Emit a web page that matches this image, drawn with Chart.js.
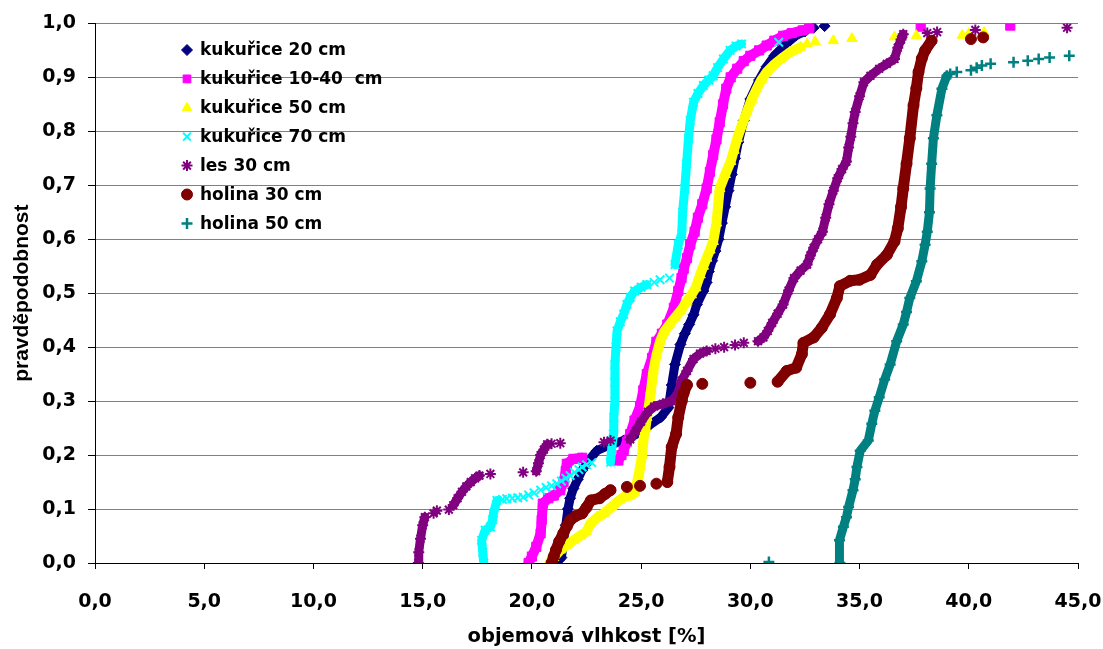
<!DOCTYPE html>
<html>
<head>
<meta charset="utf-8">
<script src="https://cdn.jsdelivr.net/npm/chart.js@4.4.1/dist/chart.umd.min.js"></script>
<style>
    html, body { margin: 0; padding: 0; background: #fff; }
    #wrap { width: 1103px; height: 649px; }
</style>
</head>
<body>
<div id="wrap"><canvas id="cdf-chart"></canvas></div>
<script>
// each series = list of runs; a run is a group of markers that touch each other
const kuk20 = [
    [[21.1,0.0],[21.35,0.01],[21.45,0.04],[21.55,0.07],[21.65,0.1],[21.75,0.12],[21.9,0.138],[22.1,0.155],[22.3,0.172],[22.6,0.19],[22.97,0.208],[23.5,0.218],[24.2,0.227],[24.6,0.235],[24.95,0.242],[25.4,0.256],[25.9,0.27],[26.25,0.288],[26.4,0.33],[26.55,0.368],[26.8,0.405],[27.0,0.425],[27.2,0.442],[27.4,0.46],[27.55,0.479],[27.85,0.504],[28.0,0.52],[28.1,0.54],[28.25,0.56],[28.4,0.578],[28.55,0.6],[28.7,0.63],[28.85,0.66],[29.0,0.69],[29.15,0.72],[29.3,0.75],[29.45,0.78],[29.7,0.82],[30.0,0.86],[30.4,0.895],[30.75,0.92],[31.1,0.94],[31.4,0.952],[31.8,0.968],[32.1,0.978],[32.5,0.985]],
    [[32.9,0.992]],
    [[33.4,0.995]]
];
const kuk1040 = [
    [[19.85,0.0],[20.0,0.012],[20.2,0.03],[20.4,0.055],[20.45,0.08],[20.5,0.11],[20.75,0.12],[21.0,0.125],[21.3,0.135],[21.45,0.15],[21.55,0.17],[21.6,0.184],[21.9,0.193],[22.3,0.195]],
    [[23.96,0.19],[24.1,0.2],[24.2,0.208],[24.35,0.225],[24.5,0.239],[24.7,0.264],[24.95,0.29],[25.1,0.32],[25.26,0.35],[25.5,0.38],[25.7,0.41],[25.95,0.425],[26.2,0.442],[26.5,0.473],[26.7,0.504],[26.85,0.528],[26.95,0.545],[27.1,0.565],[27.25,0.59],[27.45,0.614],[27.6,0.64],[27.8,0.665],[28.0,0.694],[28.15,0.725],[28.3,0.756],[28.45,0.785],[28.6,0.817],[28.75,0.85],[28.9,0.879],[29.1,0.9],[29.4,0.916],[29.7,0.93],[30.0,0.94],[30.4,0.95],[30.75,0.959],[31.1,0.968],[31.5,0.977],[31.9,0.982],[32.4,0.987],[32.7,0.991]],
    [[37.8,0.994]],
    [[41.9,0.996]]
];
const kuk50 = [
    [[20.8,0.0],[21.0,0.01],[21.3,0.024],[21.6,0.033],[21.9,0.042],[22.2,0.05],[22.5,0.058],[22.67,0.073],[23.0,0.085],[23.3,0.092],[23.65,0.104],[24.0,0.116],[24.2,0.122],[24.45,0.124],[24.7,0.13],[24.8,0.147],[24.9,0.165],[24.95,0.178],[25.05,0.2],[25.1,0.227],[25.2,0.25],[25.26,0.27],[25.35,0.29],[25.45,0.32],[25.56,0.356],[25.7,0.385],[25.87,0.411],[26.05,0.428],[26.3,0.442],[26.55,0.455],[26.8,0.467],[27.1,0.485],[27.3,0.497],[27.5,0.51],[27.7,0.534],[27.85,0.55],[28.0,0.565],[28.15,0.58],[28.3,0.596],[28.45,0.63],[28.6,0.694],[28.85,0.72],[29.1,0.744],[29.25,0.765],[29.4,0.787],[29.6,0.81],[29.84,0.836],[30.05,0.858],[30.3,0.879],[30.5,0.895],[30.75,0.91],[31.1,0.924],[31.4,0.934],[31.8,0.946],[32.3,0.956]],
    [[32.6,0.962]], [[32.97,0.966]], [[33.8,0.968]], [[34.65,0.972]], [[36.6,0.975]],
    [[37.6,0.977]], [[39.7,0.978]], [[40.0,0.981]], [[40.7,0.983]]
];
const kuk70 = [
    [[17.8,0.0],[17.75,0.02],[17.7,0.042],[17.86,0.061],[18.1,0.067],[18.2,0.08],[18.24,0.092],[18.4,0.116]],
    [[18.65,0.118]], [[18.85,0.119]], [[19.1,0.12]], [[19.35,0.121]], [[19.6,0.122]], [[19.85,0.126]],
    [[20.1,0.13]], [[20.4,0.135]], [[20.65,0.14]], [[20.9,0.143]], [[21.14,0.147]], [[21.35,0.152]],
    [[21.55,0.157]], [[21.75,0.162]], [[21.95,0.168]], [[22.15,0.173]], [[22.3,0.178]], [[22.5,0.182]], [[22.74,0.186]],
    [[23.6,0.187],[23.65,0.21],[23.73,0.239],[23.75,0.27],[23.8,0.3],[23.8,0.335],[23.8,0.368],[23.85,0.4],[23.9,0.43],[24.05,0.447],[24.2,0.461],[24.35,0.479],[24.5,0.492],[24.7,0.504],[25.0,0.511],[25.26,0.516]],
    [[25.6,0.52]], [[25.87,0.525]], [[26.3,0.528]],
    [[26.55,0.553],[26.7,0.59],[26.86,0.61],[26.9,0.65],[27.0,0.694],[27.08,0.74],[27.17,0.787],[27.25,0.82],[27.4,0.854],[27.6,0.87],[27.85,0.885],[28.1,0.895],[28.3,0.903],[28.5,0.918],[28.77,0.934],[29.07,0.95],[29.35,0.958],[29.6,0.962]],
    [[31.3,0.965]]
];
const les30 = [
    [[14.8,0.0],[14.82,0.02],[14.9,0.045],[15.0,0.07],[15.1,0.085]],
    [[15.5,0.092]], [[15.65,0.097]], [[16.2,0.099]],
    [[16.4,0.107],[16.6,0.12],[16.8,0.132],[17.0,0.142],[17.2,0.15],[17.4,0.157],[17.6,0.162]],
    [[18.1,0.165]], [[19.6,0.168]],
    [[20.2,0.17],[20.3,0.185],[20.4,0.2],[20.55,0.21],[20.7,0.22]],
    [[20.9,0.221]], [[21.3,0.222]], [[23.3,0.224]], [[23.6,0.227]],
    [[24.5,0.229],[24.75,0.245],[25.0,0.262],[25.3,0.28],[25.6,0.29],[26.0,0.295],[26.4,0.3],[26.7,0.315],[26.85,0.338],[27.1,0.356],[27.4,0.378],[27.7,0.388],[28.0,0.393]],
    [[28.4,0.397]], [[28.8,0.4]], [[29.3,0.404]], [[29.7,0.408]],
    [[30.35,0.411],[30.6,0.418],[30.8,0.43],[31.0,0.445],[31.25,0.462],[31.5,0.479],[31.75,0.505],[32.0,0.528],[32.3,0.542],[32.6,0.553],[32.75,0.57],[32.9,0.584],[33.1,0.6],[33.3,0.614],[33.45,0.64],[33.6,0.665],[33.8,0.69],[34.0,0.713],[34.2,0.73],[34.4,0.744],[34.5,0.77],[34.6,0.79],[34.7,0.815],[34.8,0.836],[35.0,0.865],[35.2,0.891],[35.5,0.903],[35.9,0.916],[36.25,0.925],[36.6,0.934],[36.75,0.955],[36.9,0.97],[37.0,0.98]],
    [[38.1,0.982]], [[38.55,0.984]], [[40.3,0.988]], [[44.5,0.992]]
];
const holina30 = [
    [[20.9,0.0],[21.0,0.012],[21.1,0.024],[21.25,0.04],[21.44,0.055],[21.6,0.068],[21.75,0.079],[22.0,0.087],[22.3,0.092],[22.5,0.103],[22.7,0.116],[23.1,0.12],[23.35,0.128],[23.6,0.135]],
    [[24.35,0.141]], [[24.95,0.143]], [[25.7,0.147]],
    [[26.2,0.15],[26.3,0.178],[26.4,0.215],[26.6,0.239],[26.7,0.27],[26.86,0.3],[26.95,0.315],[27.1,0.33]],
    [[27.8,0.332]], [[30.0,0.334]],
    [[31.25,0.336],[31.67,0.356],[32.1,0.362],[32.36,0.387],[32.43,0.408],[32.9,0.418],[33.27,0.436],[33.65,0.461],[33.96,0.491],[34.1,0.513],[34.57,0.523],[35.0,0.525],[35.5,0.534],[35.8,0.553],[36.25,0.571],[36.6,0.596],[36.75,0.62],[36.9,0.66],[37.0,0.694],[37.15,0.74],[37.3,0.787],[37.47,0.848],[37.6,0.88],[37.7,0.91],[37.85,0.935],[38.0,0.95],[38.3,0.968]],
    [[40.1,0.971]], [[40.66,0.974]]
];
const holina50 = [
    [[30.85,0.002]],
    [[34.1,0.0],[34.08,0.042],[34.26,0.067],[34.4,0.085],[34.5,0.104],[34.7,0.135],[34.8,0.155],[34.88,0.178],[35.03,0.208],[35.4,0.227],[35.56,0.258],[35.7,0.282],[35.9,0.307],[36.15,0.34],[36.4,0.368],[36.7,0.411],[37.0,0.442],[37.15,0.465],[37.3,0.491],[37.6,0.522],[37.85,0.559],[38.0,0.59],[38.1,0.614],[38.2,0.65],[38.23,0.694],[38.3,0.74],[38.38,0.787],[38.54,0.83],[38.77,0.879],[39.0,0.903]],
    [[39.15,0.906]], [[39.45,0.91]], [[40.1,0.913]], [[40.36,0.918]], [[40.6,0.922]], [[41.0,0.925]],
    [[42.05,0.928]], [[42.7,0.931]], [[43.2,0.934]], [[43.7,0.937]], [[44.6,0.94]]
];

const seriesNames = ['kukuřice 20 cm', 'kukuřice 10-40  cm', 'kukuřice 50 cm', 'kukuřice 70 cm', 'les 30 cm', 'holina 30 cm', 'holina 50 cm'];
const xTickLabels = ['0,0', '5,0', '10,0', '15,0', '20,0', '25,0', '30,0', '35,0', '40,0', '45,0'];
const yTickLabels = ['0,0', '0,1', '0,2', '0,3', '0,4', '0,5', '0,6', '0,7', '0,8', '0,9', '1,0'];

const allSeries = [kuk20, kuk1040, kuk50, kuk70, les30, holina30, holina50];
const looks = [
    { color: '#000080', style: 'rectRot', r: 5.5, line: 9, pw: 1 },
    { color: '#FF00FF', style: 'rect', r: 6.5, line: 10, pw: 1 },
    { color: '#FFFF00', style: 'triangle', r: 6, line: 10, pw: 1 },
    { color: '#00FFFF', style: 'crossRot', r: 6, line: 9, pw: 2 },
    { color: '#800080', style: 'star', r: 5.5, line: 9, pw: 2 },
    { color: '#800000', style: 'circle', r: 5.5, line: 11, pw: 1 },
    { color: '#008080', style: 'cross', r: 5.5, line: 9, pw: 2.5 }
];

const SANS = '"Liberation Sans", Arial, sans-serif';
const WIDE = '"DejaVu Sans", Verdana, sans-serif';

function buildDataset(runs, i) {
    const pts = [];
    const runId = [];
    runs.forEach((run, r) => {
        run.forEach(p => {
            pts.push({ x: p[0], y: p[1] });
            runId.push(r);
        });
    });
    const lk = looks[i];
    return {
        label: seriesNames[i],
        data: pts,
        showLine: true,
        borderColor: lk.color,
        backgroundColor: lk.color,
        borderWidth: lk.line,
        borderCapStyle: 'round',
        borderJoinStyle: 'round',
        pointStyle: lk.style,
        pointRadius: lk.r,
        pointBorderWidth: lk.pw,
        pointBorderColor: lk.color,
        pointBackgroundColor: lk.color,
        order: 10 - i, // later series on top like the original
        segment: {
            // only join markers of the same run
            borderColor: ctx => runId[ctx.p0DataIndex] === runId[ctx.p1DataIndex] ? undefined : 'rgba(0,0,0,0)'
        }
    };
}

const legendInside = {
    id: 'legendInside',
    afterDraw(chart) {
        const ctx = chart.ctx;
        ctx.save();
        ctx.font = 'bold 17px ' + WIDE;
        ctx.textBaseline = 'middle';
        seriesNames.forEach((name, i) => {
            const y = 50 + i * 28.9;
            const lk = looks[i];
            ctx.fillStyle = lk.color;
            ctx.strokeStyle = lk.color;
            ctx.lineWidth = lk.pw;
            Chart.helpers.drawPoint(ctx, { pointStyle: lk.style, radius: Math.min(lk.r, 5.5), borderWidth: lk.pw, rotation: 0 }, 187, y);
            ctx.fillStyle = '#000';
            ctx.fillText(name, 200, y + 1);
        });
        ctx.restore();
    }
};

new Chart(document.getElementById('cdf-chart'), {
    type: 'scatter',
    data: { datasets: allSeries.map(buildDataset) },
    options: {
        responsive: true,
        maintainAspectRatio: false,
        animation: false,
        devicePixelRatio: 1,
        layout: { padding: { top: 11, right: 0, left: 0, bottom: 0 } },
        plugins: {
            legend: { display: false },
            tooltip: { enabled: false }
        },
        scales: {
            x: {
                type: 'linear',
                min: 0,
                max: 45,
                afterFit: s => {
                    s.height = 86;
                    s.paddingRight = 25; // room for the "45,0" label
                },
                ticks: {
                    stepSize: 5,
                    color: '#000',
                    font: { family: WIDE, size: 19, weight: 'bold' },
                    padding: 22,
                    maxRotation: 0,
                    callback: (v, i) => xTickLabels[i]
                },
                grid: { drawOnChartArea: false, tickLength: 6, tickColor: '#000' },
                border: { color: '#000', width: 1 },
                title: {
                    display: true,
                    text: 'objemová vlhkost [%]',
                    color: '#000',
                    font: { family: WIDE, size: 19.5, weight: 'bold' },
                    padding: { top: 4, bottom: 0 }
                }
            },
            y: {
                type: 'linear',
                min: 0,
                max: 1,
                afterFit: s => { s.width = 95; },
                ticks: {
                    stepSize: 0.1,
                    color: '#000',
                    font: { family: WIDE, size: 19, weight: 'bold' },
                    padding: 12,
                    callback: (v, i) => yTickLabels[i]
                },
                grid: { color: '#808080', lineWidth: 1, tickLength: 7, tickColor: '#000' },
                border: { color: '#000', width: 1 },
                title: {
                    display: true,
                    text: 'pravděpodobnost',
                    color: '#000',
                    font: { family: SANS, size: 21, weight: 'bold' },
                    padding: { top: 10, bottom: 0 }
                }
            }
        }
    },
    plugins: [legendInside]
});
</script>
</body>
</html>
